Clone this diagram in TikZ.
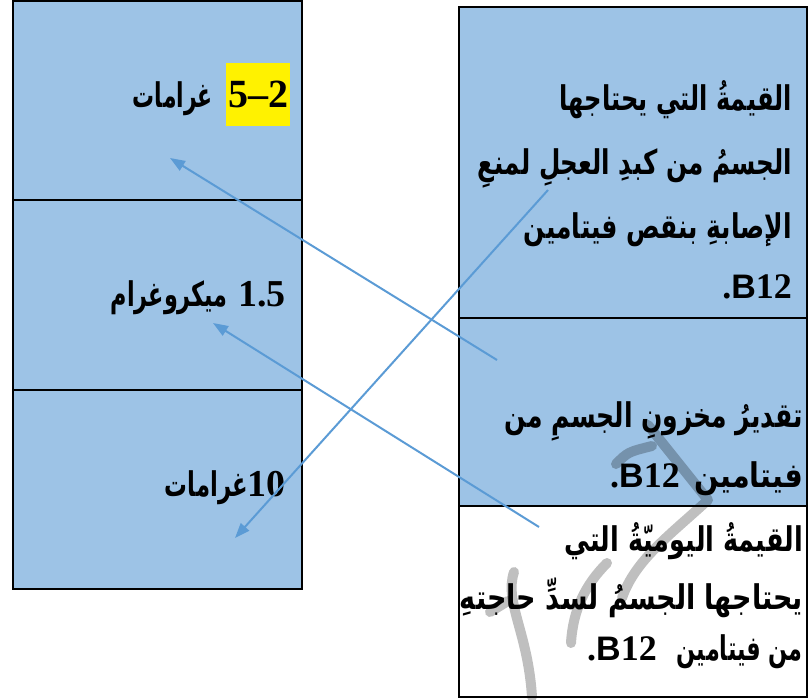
\documentclass[tikz,border=0pt]{standalone}
\usepackage{fontspec}
\usepackage{graphicx}
\TeXXeTstate=1
\newfontfamily\arfont[Script=Arabic]{DejaVu Sans}
\newfontfamily\numfont{Liberation Serif}
\newfontfamily\latsans{Liberation Sans}
\usetikzlibrary{arrows.meta}
\definecolor{boxblue}{HTML}{9DC3E6}
\definecolor{arrowblue}{HTML}{5B9BD5}
\newsavebox\arbox
\newcommand\arw[2]{\sbox\arbox{\arfont\bfseries\fontsize{34}{38}\selectfont #2}%
  \pgfmathsetmacro\sxf{#1/\wd\arbox}\scalebox{\sxf}[1]{\usebox\arbox}}
\newcommand\numtxt[2]{{\numfont\bfseries\fontsize{#1}{#1}\selectfont #2}}
\newcommand\Btw{\numtxt{36}{.}{\latsans\bfseries\fontsize{34}{36}\selectfont B}\numtxt{36}{12}}
\begin{document}
\begin{tikzpicture}[x=1pt,y=-1pt,
  cell/.style={draw=black,line width=2pt,fill=boxblue,inner sep=0pt,minimum width=#1},
  txt/.style={inner sep=0pt,anchor=base east},
  txtw/.style={inner sep=0pt,anchor=base west},
  link/.style={draw=arrowblue,line width=2pt,-{Triangle[length=15pt,width=11pt]}},
  wm/.style={line width=10pt,line cap=round,line join=round,draw=black}]
\useasboundingbox (0,0) rectangle (811,699);
% left column
\node[cell=289pt,minimum height=199pt] (L1) at (157.5,100.5) {};
\node[cell=289pt,minimum height=190pt] (L2) at (157.5,295) {};
\node[cell=289pt,minimum height=199pt] (L3) at (157.5,489.5) {};
% right column
\node[cell=348pt,minimum height=311pt] (R1) at (633,162.5) {};
\node[cell=348pt,minimum height=188pt] (R2) at (633,412) {};
\node[cell=348pt,minimum height=191pt,fill=white] (R3) at (633,601.5) {};
% left texts
\node[inner sep=0pt,fill=yellow,minimum width=64pt,minimum height=63pt] (n52) at (258,94.5) {\numtxt{40}{5–2}};
\node[txt] (g1) at (213,107) {\arw{80}{\beginR غرامات\endR}};
\node[txt] (n15) at (286,306) {\numtxt{38}{1.5}};
\node[txt] (mk) at (228,306) {\arw{117}{\beginR ميكروغرام\endR}};
\node[txt] (n10) at (286,496) {\numtxt{38}{10}};
\node[txt] (g3) at (248,496) {\arw{83}{\beginR غرامات\endR}};
% right top texts
\node[txt] (t1) at (792,110) {\arw{232}{\beginR القيمةُ التي يحتاجها\endR}};
\node[txt] (t2) at (792,174) {\arw{314}{\beginR الجسمُ من كبدِ العجلِ لمنعِ\endR}};
\node[txt] (t3) at (792,238) {\arw{268}{\beginR الإصابةِ بنقص فيتامين\endR}};
\node[txt] (t4) at (792,298) {\Btw};
% right middle texts
\node[txt] (m1) at (803,427) {\arw{298}{\beginR تقديرُ مخزونِ الجسمِ من\endR}};
\node[txt] (m2) at (803,487) {\arw{108}{\beginR فيتامين\endR}};
\node[txtw] (m3) at (610,487) {\Btw};
% right bottom texts
\node[txt] (b1) at (803,551) {\arw{238}{\beginR القيمةُ اليوميّةُ التي\endR}};
\node[txt] (b2) at (803,609) {\arw{343}{\beginR يحتاجها الجسمُ لسدِّ حاجتهِ\endR}};
\node[txt] (b3) at (803,660) {\arw{126}{\beginR من فيتامين\endR}};
\node[txtw] (b4) at (587,660) {\Btw};
% connectors
\coordinate (s1) at (497,360);
\coordinate (e1) at (170,158);
\coordinate (s2) at (539,527);
\coordinate (e2) at (213,323);
\coordinate (s3) at (548,190);
\coordinate (e3) at (235,538);
\draw[link] (s1) -- (e1);
\draw[link] (s2) -- (e2);
\draw[link] (s3) -- (e3);
% watermark
\begin{scope}[opacity=0.25]
\draw[wm] (648,425) -- (708,500) .. controls (670,535) and (635,560) .. (622,598);
\draw[wm] (616,464) .. controls (628,452) .. (652,446);
\draw[wm] (607,563) .. controls (585,585) and (573,610) .. (571,643);
\draw[wm] (514,572) .. controls (504,602) and (528,632) .. (532,697);
\draw[wm] (490,612) -- (508,601);
\end{scope}
\end{tikzpicture}
\end{document}
